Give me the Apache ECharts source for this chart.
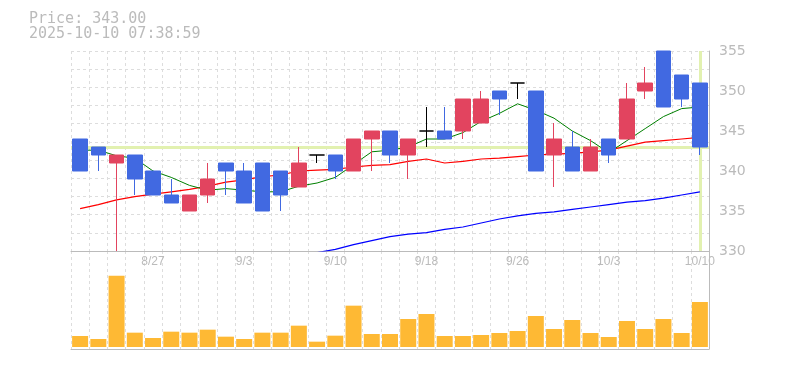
<!DOCTYPE html>
<html><head><meta charset="utf-8">
<script src="https://cdn.jsdelivr.net/npm/echarts@6/dist/echarts.min.js"></script>
<style>html,body{margin:0;padding:0;background:#fff}#c{width:785px;height:370px}</style>
</head><body><div id="c"></div>
<script>
const dates = ['8/21','8/22','8/25','8/26','8/27','8/28','8/29','9/1','9/2','9/3','9/4','9/5','9/8','9/9','9/10','9/11','9/12','9/16','9/17','9/18','9/19','9/22','9/24','9/25','9/26','9/29','9/30','10/1','10/2','10/3','10/6','10/7','10/8','10/9','10/10'];
const opens  = [344,343,341,342,340,337,335,337,341,340,341,340,338,342,342,340,344,345,342,345,345,345,346,350,351,350,342,343,340,344,344,350,355,352,351];
const closes = [340,342,342,339,337,336,337,339,340,336,335,337,341,342,340,344,345,342,344,345,344,349,349,349,351,340,344,340,343,342,349,351,348,349,343];
const lows   = [340,340,330,337,337,336,335,336,337,336,335,335,338,341,339,340,340,341,339,343,344,344,346,347,349,340,338,340,340,341,344,349,348,348,342];
const highs  = [344,343,342,342,340,339,337,341,341,341,341,340,343,342,342,344,345,345,344,348,348,349,350,350,351,350,346,345,344,344,351,353,355,352,351];
const maShort = [342.6,342.6,341.9,341.6,340.0,339.2,338.2,337.6,337.8,337.6,337.4,337.4,338.1,338.5,339.2,340.8,342.4,342.6,343.0,344.0,344.0,344.8,346.2,347.2,348.4,347.6,346.6,345.0,343.8,342.3,343.8,345.3,346.8,347.8,348.0];
const maMid = [335.3,335.8,336.4,336.8,337.1,337.4,337.7,338.1,338.6,338.9,339.3,339.5,340.0,340.1,340.2,340.5,340.7,340.8,341.2,341.5,341.0,341.2,341.5,341.6,341.8,342.0,342.1,342.2,342.4,342.6,343.1,343.6,343.8,344.0,344.2];
const maLong = [null,null,null,null,null,null,null,null,null,null,null,null,null,329.8,330.2,330.8,331.3,331.8,332.1,332.3,332.7,333.0,333.5,334.0,334.4,334.7,334.9,335.2,335.5,335.8,336.1,336.3,336.6,337.0,337.4];
const volumes = [33,24,214,43,27,46,43,52,31,24,43,43,64,16,34,124,39,39,84,99,33,33,36,42,48,93,54,81,42,30,78,54,84,42,135];
const priceTicks = [330,335,340,345,350,355];
const currentPrice = 343;
const headerLines = ['Price: 343.00','2025-10-10 07:38:59'];

const chart = echarts.init(document.getElementById('c'));
const ohlc = dates.map((d,i)=>[opens[i],closes[i],lows[i],highs[i]]);
const gridColor = '#dddddd';
const labelColor = '#bbbbbb';
const axisColor = '#bbbbbb';
const dash = {color:gridColor, type:[3,3], width:1};

chart.setOption({
  animation:false,
  backgroundColor:'#ffffff',
  grid:[{left:71,right:76,top:51,height:200},{left:71,right:76,top:251,bottom:21}],
  xAxis:[
    {type:'category',gridIndex:0,data:dates,boundaryGap:true,
     axisLine:{show:true,onZero:false,lineStyle:{color:axisColor}},
     axisTick:{show:false,interval:0},
     axisLabel:{interval:(i)=>i%5===4,color:labelColor,fontFamily:'Liberation Sans',fontSize:12,margin:5},
     splitLine:{show:true,interval:0,lineStyle:dash}},
    {type:'category',gridIndex:1,data:dates,boundaryGap:true,
     axisLine:{show:true,onZero:false,lineStyle:{color:axisColor}},
     axisTick:{show:false,interval:0},axisLabel:{show:false},
     splitLine:{show:true,interval:0,lineStyle:dash}}
  ],
  yAxis:[
    {type:'value',gridIndex:0,position:'right',min:priceTicks[0],max:priceTicks[priceTicks.length-1],interval:5,
     axisLine:{show:true,onZero:false,lineStyle:{color:axisColor}},axisTick:{show:false},
     axisLabel:{color:labelColor,fontFamily:'DejaVu Sans',fontSize:14,margin:10,padding:[4,0,0,0]},
     splitLine:{show:false}},
    {type:'value',gridIndex:0,position:'left',min:0,max:11,interval:1,
     axisLine:{show:false},axisTick:{show:false},axisLabel:{show:false},
     splitLine:{show:true,lineStyle:dash}},
    {type:'value',gridIndex:1,position:'right',min:-6,max:288,
     axisLine:{show:true,onZero:false,lineStyle:{color:axisColor}},axisTick:{show:false},
     axisLabel:{show:false},splitLine:{show:false}}
  ],
  series:[
    {type:'line',xAxisIndex:0,yAxisIndex:0,data:dates.map(()=>null),z:1,silent:true,
     markLine:{z:1,symbol:'none',silent:true,animation:false,label:{show:false},
       lineStyle:{color:'#e2f1b0',width:3,type:'solid'},
       data:[{yAxis:currentPrice},{xAxis:dates[dates.length-1]}]}},
    {type:'line',xAxisIndex:0,yAxisIndex:0,data:maLong,symbol:'none',z:2,
     lineStyle:{color:'#0000ff',width:1.2}},
    {type:'line',xAxisIndex:0,yAxisIndex:0,data:maMid,symbol:'none',z:2,
     lineStyle:{color:'#ff0000',width:1.2}},
    {type:'line',xAxisIndex:0,yAxisIndex:0,data:maShort,symbol:'none',z:2,
     lineStyle:{color:'#008000',width:1}},
    {type:'candlestick',xAxisIndex:0,yAxisIndex:0,data:ohlc,barWidth:15,z:3,
     itemStyle:{color:'#e2445f',color0:'#4169e1',borderColor:'#e2445f',borderColor0:'#4169e1',borderColorDoji:'#000000',borderWidth:1}},
    {type:'bar',xAxisIndex:1,yAxisIndex:2,data:volumes,barWidth:16,
     itemStyle:{color:'#feb934'}}
  ],
  graphic:headerLines.map((t,i)=>({type:'text',x:29,y:19+i*15.5,silent:true,
     style:{text:t,font:'15px "DejaVu Sans Mono"',fill:'#bbbbbb',textVerticalAlign:'middle',verticalAlign:'middle'}}))
});
</script></body></html>
